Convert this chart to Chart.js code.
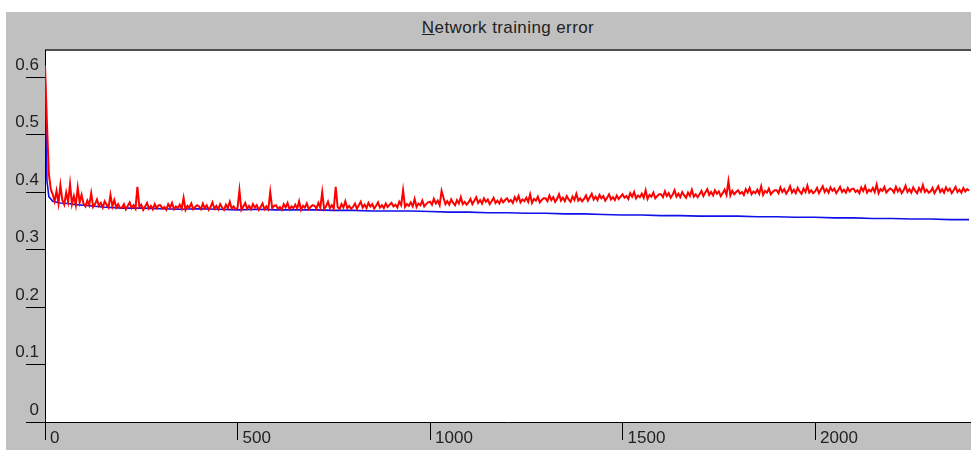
<!DOCTYPE html>
<html lang="en">
<head>
    <meta charset="UTF-8">
    <title>Network training error</title>
    <script src="https://cdn.jsdelivr.net/npm/chart.js"></script>
    <style>
        body { margin: 0; background: #fff; width: 971px; height: 450px; overflow: hidden; font-family: "Liberation Sans", Arial, sans-serif; }
        #panel { position: absolute; left: 6px; top: 12px; right: 0; bottom: 0; background: #c0c0c0; }
        #title { position: absolute; left: 45px; right: 0; top: 18px; text-align: center; font-size: 17px; letter-spacing: 0.4px; color: #222; }
        #wrap { position: absolute; left: 0; top: 0; width: 971px; height: 450px; }
    </style>
</head>
<body>
    <div id="panel"></div>
    <div id="title"><u>N</u>etwork training error</div>
    <div id="wrap"><canvas id="errChart"></canvas></div>

    <script>
        // tick labels
        const xTicks = [0, 500, 1000, 1500, 2000];
        const yTicks = [0, 0.1, 0.2, 0.3, 0.4, 0.5, 0.6];

        // red series, one value every 5 epochs (0..2400), one row = 100 epochs
        const redStep = 5;
        const redValues = [
            0.620, 0.520, 0.432, 0.405, 0.396, 0.384, 0.402, 0.380, 0.412, 0.386, 0.378, 0.399, 0.383, 0.414, 0.379, 0.393, 0.377, 0.408, 0.382, 0.395,
            0.380, 0.375, 0.385, 0.377, 0.398, 0.374, 0.379, 0.387, 0.376, 0.381, 0.373, 0.384, 0.378, 0.373, 0.395, 0.375, 0.386, 0.373, 0.379, 0.372,
            0.373, 0.379, 0.370, 0.376, 0.382, 0.372, 0.377, 0.371, 0.409, 0.374, 0.378, 0.369, 0.375, 0.381, 0.371, 0.376, 0.370, 0.379, 0.372, 0.377,
            0.377, 0.371, 0.374, 0.369, 0.379, 0.373, 0.381, 0.370, 0.375, 0.372, 0.378, 0.371, 0.390, 0.369, 0.376, 0.373, 0.380, 0.370, 0.374, 0.377,
            0.375, 0.370, 0.380, 0.372, 0.377, 0.369, 0.374, 0.382, 0.371, 0.376, 0.370, 0.379, 0.373, 0.369, 0.378, 0.372, 0.383, 0.371, 0.375, 0.370,
            0.372, 0.403, 0.369, 0.375, 0.381, 0.371, 0.376, 0.370, 0.379, 0.373, 0.377, 0.369, 0.374, 0.380, 0.370, 0.375, 0.370, 0.400, 0.372, 0.376,
            0.377, 0.371, 0.374, 0.369, 0.379, 0.373, 0.381, 0.370, 0.375, 0.372, 0.378, 0.371, 0.384, 0.369, 0.376, 0.373, 0.380, 0.370, 0.374, 0.377,
            0.376, 0.371, 0.381, 0.373, 0.400, 0.370, 0.375, 0.383, 0.372, 0.377, 0.371, 0.409, 0.374, 0.370, 0.379, 0.373, 0.384, 0.372, 0.376, 0.371,
            0.374, 0.380, 0.371, 0.377, 0.383, 0.373, 0.378, 0.372, 0.381, 0.375, 0.379, 0.371, 0.376, 0.382, 0.373, 0.377, 0.372, 0.380, 0.374, 0.378,
            0.381, 0.375, 0.378, 0.373, 0.383, 0.377, 0.403, 0.374, 0.379, 0.376, 0.382, 0.375, 0.388, 0.374, 0.380, 0.377, 0.385, 0.375, 0.379, 0.382,
            0.383, 0.378, 0.388, 0.380, 0.385, 0.377, 0.402, 0.390, 0.379, 0.384, 0.378, 0.387, 0.381, 0.377, 0.386, 0.380, 0.391, 0.379, 0.383, 0.378,
            0.382, 0.388, 0.379, 0.385, 0.391, 0.381, 0.386, 0.380, 0.389, 0.383, 0.387, 0.379, 0.384, 0.390, 0.381, 0.385, 0.380, 0.388, 0.382, 0.386,
            0.389, 0.383, 0.386, 0.381, 0.391, 0.385, 0.393, 0.382, 0.387, 0.384, 0.390, 0.383, 0.396, 0.381, 0.388, 0.385, 0.392, 0.382, 0.386, 0.389,
            0.389, 0.384, 0.394, 0.386, 0.391, 0.383, 0.388, 0.396, 0.385, 0.390, 0.384, 0.393, 0.387, 0.383, 0.392, 0.386, 0.397, 0.385, 0.389, 0.384,
            0.388, 0.394, 0.385, 0.391, 0.397, 0.387, 0.392, 0.386, 0.395, 0.389, 0.393, 0.385, 0.390, 0.396, 0.387, 0.391, 0.386, 0.394, 0.388, 0.392,
            0.396, 0.390, 0.393, 0.388, 0.398, 0.392, 0.400, 0.389, 0.394, 0.391, 0.397, 0.390, 0.403, 0.388, 0.395, 0.392, 0.399, 0.389, 0.393, 0.396,
            0.396, 0.391, 0.401, 0.393, 0.398, 0.390, 0.395, 0.403, 0.392, 0.397, 0.391, 0.400, 0.394, 0.390, 0.399, 0.393, 0.404, 0.392, 0.396, 0.391,
            0.396, 0.402, 0.393, 0.399, 0.405, 0.395, 0.400, 0.394, 0.403, 0.397, 0.401, 0.393, 0.398, 0.404, 0.395, 0.419, 0.394, 0.402, 0.396, 0.400,
            0.403, 0.397, 0.400, 0.395, 0.405, 0.399, 0.407, 0.396, 0.401, 0.398, 0.404, 0.397, 0.410, 0.395, 0.402, 0.399, 0.406, 0.396, 0.400, 0.403,
            0.403, 0.398, 0.408, 0.400, 0.405, 0.397, 0.402, 0.410, 0.399, 0.404, 0.398, 0.407, 0.401, 0.397, 0.406, 0.400, 0.411, 0.399, 0.403, 0.398,
            0.401, 0.407, 0.398, 0.404, 0.410, 0.400, 0.405, 0.399, 0.408, 0.402, 0.406, 0.398, 0.403, 0.409, 0.400, 0.404, 0.399, 0.407, 0.401, 0.405,
            0.406, 0.400, 0.403, 0.398, 0.408, 0.402, 0.410, 0.399, 0.404, 0.401, 0.407, 0.400, 0.413, 0.398, 0.405, 0.402, 0.409, 0.399, 0.403, 0.406,
            0.404, 0.399, 0.409, 0.401, 0.406, 0.398, 0.403, 0.411, 0.400, 0.405, 0.399, 0.408, 0.402, 0.398, 0.407, 0.401, 0.412, 0.400, 0.404, 0.399,
            0.401, 0.407, 0.398, 0.404, 0.410, 0.400, 0.405, 0.399, 0.408, 0.402, 0.406, 0.398, 0.403, 0.409, 0.400, 0.404, 0.399, 0.407, 0.401, 0.405,
            0.402
        ];

        // blue series
        const blueEpochs = [0, 5, 10, 20, 40, 60, 80, 100, 150, 200, 250, 300, 350, 400, 450, 500,
            550, 600, 650, 700, 750, 800, 850, 900, 950, 1000, 1050, 1100, 1150, 1200, 1250, 1300,
            1350, 1400, 1450, 1500, 1550, 1600, 1650, 1700, 1750, 1800, 1850, 1900, 1950, 2000,
            2050, 2100, 2150, 2200, 2250, 2300, 2350, 2400];
        const blueValues = [0.620, 0.420, 0.392, 0.384, 0.381, 0.380, 0.378, 0.377, 0.374, 0.372,
            0.372, 0.371, 0.370, 0.371, 0.370, 0.369, 0.370, 0.369, 0.369, 0.369, 0.368, 0.368,
            0.367, 0.367, 0.367, 0.366, 0.365, 0.365, 0.364, 0.364, 0.363, 0.363, 0.362, 0.362,
            0.361, 0.360, 0.360, 0.359, 0.359, 0.358, 0.358, 0.358, 0.357, 0.357, 0.356, 0.356,
            0.355, 0.355, 0.354, 0.354, 0.353, 0.353, 0.352, 0.352];

        const redPoints = redValues.map((v, i) => ({ x: i * redStep, y: v }));
        const bluePoints = blueValues.map((v, i) => ({ x: blueEpochs[i], y: v }));

        const tickFont = { family: '"Liberation Sans", Arial, sans-serif', size: 17 };

        // white plot area with the dark inset line on top
        const plotBackground = {
            id: 'plotBackground',
            beforeDraw(chart) {
                const { ctx, chartArea: a } = chart;
                ctx.save();
                ctx.fillStyle = '#fff';
                ctx.fillRect(a.left, a.top, a.right - a.left, a.bottom - a.top);
                ctx.fillStyle = '#505050';
                ctx.fillRect(a.left, a.top - 1, a.right - a.left, 2);
                ctx.restore();
            }
        };

        new Chart(document.getElementById('errChart'), {
            type: 'line',
            data: {
                datasets: [
                    { data: redPoints, borderColor: '#ff0000', borderWidth: 2 },
                    { data: bluePoints, borderColor: '#1010e8', borderWidth: 1.6 }
                ]
            },
            options: {
                responsive: true,
                maintainAspectRatio: false,
                animation: false,
                elements: { point: { radius: 0 }, line: { tension: 0 } },
                layout: { padding: { top: 50, right: 0, left: 0, bottom: 0 } },
                plugins: { legend: { display: false }, tooltip: { enabled: false } },
                scales: {
                    x: {
                        type: 'linear',
                        min: 0,
                        max: 2405,
                        afterBuildTicks: s => { s.ticks = xTicks.map(v => ({ value: v })); },
                        afterFit: s => { s.height = 28; },
                        border: { color: '#000', width: 1 },
                        grid: { drawOnChartArea: false, tickLength: 18, tickColor: '#000' },
                        ticks: {
                            align: 'start',
                            labelOffset: 5,
                            padding: -12,
                            color: '#222',
                            font: tickFont,
                            maxRotation: 0,
                            callback: v => String(v)
                        }
                    },
                    y: {
                        min: 0,
                        max: 0.647,
                        afterBuildTicks: s => { s.ticks = yTicks.map(v => ({ value: v })); },
                        afterFit: s => { s.width = 45; },
                        border: { color: '#000', width: 1 },
                        grid: { drawOnChartArea: false, tickLength: 19, tickColor: '#000' },
                        ticks: {
                            labelOffset: -12,
                            padding: -13,
                            color: '#222',
                            font: tickFont,
                            callback: v => String(v)
                        }
                    }
                }
            },
            plugins: [plotBackground]
        });
    </script>
</body>
</html>
